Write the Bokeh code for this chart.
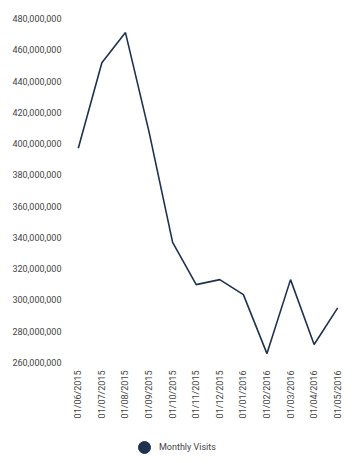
from bokeh.plotting import figure
from bokeh.layouts import column
from bokeh.models import ColumnDataSource, Legend, LegendItem, NumeralTickFormatter, FixedTicker, Range1d
from bokeh.embed import file_html
from bokeh.resources import INLINE
import math

months = ["01/06/2015", "01/07/2015", "01/08/2015", "01/09/2015", "01/10/2015", "01/11/2015",
          "01/12/2015", "01/01/2016", "01/02/2016", "01/03/2016", "01/04/2016", "01/05/2016"]
visits = [397000000, 451700000, 471000000, 407500000, 336800000, 309800000,
          313000000, 303400000, 265700000, 313000000, 271500000, 294900000]
y_ticks = [260000000, 280000000, 300000000, 320000000, 340000000, 360000000,
           380000000, 400000000, 420000000, 440000000, 460000000, 480000000]
series_name = "Monthly Visits"

LINE = "#1e3250"
LABEL = "#444444"

p = figure(x_range=months, y_range=Range1d(260000000, 480000000),
           frame_width=283, frame_height=344, output_backend="svg", toolbar_location=None,
           min_border_left=66, min_border_right=11, min_border_top=18, min_border_bottom=70)
p.outline_line_color = None
p.xgrid.visible = False
p.ygrid.visible = False

src = ColumnDataSource(dict(x=months, y=visits))
p.line("x", "y", source=src, line_color=LINE, line_width=1.6)

for ax in (p.xaxis[0], p.yaxis[0]):
    ax.axis_line_color = None
    ax.major_tick_line_color = None
    ax.minor_tick_line_color = None
    ax.major_tick_out = 0
    ax.major_tick_in = 0
    ax.minor_tick_out = 0
    ax.minor_tick_in = 0
    ax.major_label_text_font = "Roboto"
    ax.major_label_text_font_size = "9px"
    ax.major_label_text_color = LABEL
    ax.major_label_standoff = 5

p.yaxis[0].ticker = FixedTicker(ticks=y_ticks)
p.yaxis[0].formatter = NumeralTickFormatter(format="0,0")
p.xaxis[0].major_label_orientation = math.pi / 2
p.xaxis[0].major_label_standoff = 8

# legend strip below the chart (its marker renderer uses the series data, mapped outside the strip's view)
lf = figure(width=360, height=30, x_range=months, y_range=Range1d(0, 1),
            output_backend="svg", toolbar_location=None,
            x_axis_location=None, y_axis_location=None,
            min_border=0)
lf.outline_line_color = None
lf.xgrid.visible = False
lf.ygrid.visible = False
dot = lf.scatter("x", "y", source=src, size=12, fill_color=LINE, line_color=LINE)

legend = Legend(items=[LegendItem(label=series_name, renderers=[dot])],
                orientation="horizontal", location=(63, 0),
                label_text_font="Roboto", label_text_font_size="9px", label_text_color=LABEL,
                label_standoff=0, label_height=12,
                border_line_color=None, background_fill_alpha=0,
                glyph_width=30, glyph_height=30, margin=0, padding=0)
lf.add_layout(legend, "center")

layout = column(p, lf, spacing=0)
open("out.html", "w").write(file_html(layout, INLINE))
